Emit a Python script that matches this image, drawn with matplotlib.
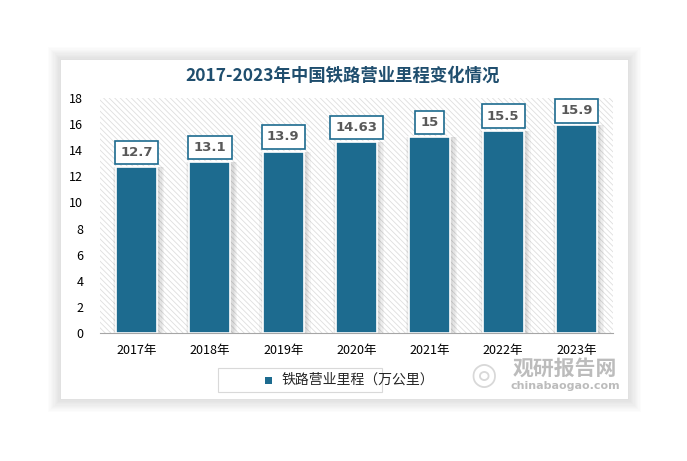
import matplotlib
matplotlib.use('Agg')
import matplotlib.pyplot as plt
from matplotlib.patches import Rectangle
import numpy as np

years = ['2017年', '2018年', '2019年', '2020年', '2021年', '2022年', '2023年']
mileage = [12.7, 13.1, 13.9, 14.63, 15, 15.5, 15.9]
value_labels = ['12.7', '13.1', '13.9', '14.63', '15', '15.5', '15.9']
yticks = [0, 2, 4, 6, 8, 10, 12, 14, 16, 18]

plt.rcParams['font.family'] = ['Noto Sans CJK SC', 'DejaVu Sans']
plt.rcParams['hatch.color'] = '#dedede'
plt.rcParams['hatch.linewidth'] = 0.6

bar_color = '#1d6b8f'
title_color = '#1f4e6e'

fig = plt.figure(figsize=(6.87, 4.61), dpi=100)
fig.patch.set_facecolor('white')

# card with soft shadow
cx, cy, cw, ch = 61 / 687, 1 - 399 / 461, 567 / 687, 339 / 461
for i in range(10, 0, -1):
    d = i * 1.3
    fig.patches.append(Rectangle((cx - d / 687, cy - d / 461), cw + 2 * d / 687, ch + 2 * d / 461,
                                 transform=fig.transFigure, facecolor='#000000',
                                 alpha=0.012, edgecolor='none', zorder=0))
fig.patches.append(Rectangle((cx, cy), cw, ch, transform=fig.transFigure,
                             facecolor='white', edgecolor='none', zorder=1))

ax = fig.add_axes([100 / 687, 1 - 333 / 461, 513 / 687, 235 / 461])
ax.set_zorder(2)
ax.patch.set_facecolor('white')
ax.patch.set_hatch('\\\\\\\\\\\\')
ax.patch.set_edgecolor('#dedede')
ax.patch.set_linewidth(0)

x = np.arange(len(years))
# bar shadows
for xi, v in zip(x, mileage):
    for k in range(4, 0, -1):
        ax.bar(xi + 0.025, v, width=0.56 + 0.035 * k, color='black', alpha=0.035, zorder=2)
ax.bar(x, mileage, width=0.56, color=bar_color, edgecolor='white', linewidth=1.2, zorder=3)

for xi, v, lab in zip(x, mileage, value_labels):
    ax.annotate(lab, (xi, v), xytext=(0, 10.5), textcoords='offset points',
                ha='center', va='center', fontsize=9.5, fontweight='bold', color='#595959',
                family=['DejaVu Sans'],
                bbox=dict(boxstyle='square,pad=0.4', facecolor='white',
                          edgecolor=bar_color, linewidth=1.2), zorder=5)

ax.set_xlim(-0.5, len(years) - 0.5)
ax.set_ylim(0, 18)
ax.set_yticks(yticks)
ax.set_xticks(x)
ax.set_xticklabels(years, fontsize=9)
ax.tick_params(axis='y', length=0, pad=12, labelsize=9)
ax.tick_params(axis='x', length=0, pad=8)
for s in ['top', 'right', 'left']:
    ax.spines[s].set_visible(False)
ax.spines['bottom'].set_color('#a6a6a6')
ax.spines['bottom'].set_zorder(4)

fig.text(343 / 687, 1 - 76 / 461, '2017-2023年中国铁路营业里程变化情况', ha='center', va='center',
         fontsize=12.5, fontweight='bold', color=title_color)

# legend box
fig.patches.append(Rectangle((218 / 687, 1 - 392 / 461), 164 / 687, 24 / 461,
                             transform=fig.transFigure, facecolor='white',
                             edgecolor='#d9d9d9', linewidth=0.8, zorder=3))
fig.patches.append(Rectangle((272 / 687 - 0.01, 1 - 380 / 461 - 0.008), 7 / 687, 7 / 461,
                             transform=fig.transFigure, facecolor=bar_color,
                             edgecolor='none', zorder=4))
fig.text(282 / 687, 1 - 380 / 461, '铁路营业里程（万公里）', ha='left', va='center',
         fontsize=10, color='#262626', zorder=4)

# watermark
fig.text(565 / 687, 1 - 368 / 461, '观研报告网', ha='center', va='center', fontsize=15,
         fontweight='bold', color='#a0a0a0', alpha=0.7, zorder=6)
fig.text(565 / 687, 1 - 386 / 461, 'chinabaogao.com', ha='center', va='center', fontsize=8,
         fontweight='bold', color='#a0a0a0', alpha=0.7, family=['DejaVu Sans'], zorder=6)
fig.text(484 / 687, 1 - 375 / 461, '◎', ha='center', va='center', fontsize=22,
         color='#b8b8b8', alpha=0.55, family=['DejaVu Sans'], zorder=6)

fig.savefig('out.png', dpi=100)
